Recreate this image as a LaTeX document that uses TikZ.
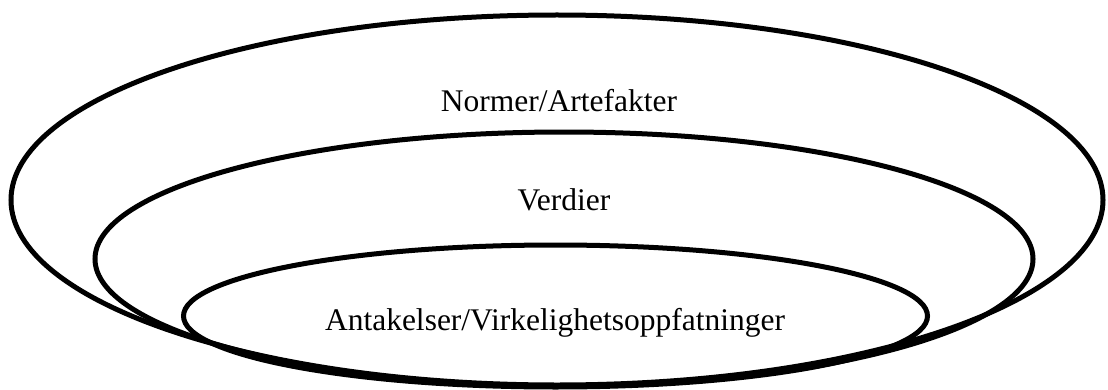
\documentclass[tikz,border=0pt]{standalone}
\usepackage{fontspec}
\setmainfont{Liberation Serif}
\tikzset{
  ring/.style={draw=black, line width=5pt},
  lbl/.style={anchor=base, inner sep=0pt, font=\fontsize{31.5}{38}\selectfont}
}
\begin{document}
\begin{tikzpicture}[x=1pt,y=1pt]
\useasboundingbox (0,0) rectangle (1108,389);
\draw[ring] (557,189) ellipse [x radius=546, y radius=185];
\draw[ring] (564,130) ellipse [x radius=469, y radius=127];
\draw[ring] (555.5,73) ellipse [x radius=372, y radius=71];
\node[lbl] (normer) at (559,277) {Normer/Artefakter};
\node[lbl] (verdier) at (564,179) {Verdier};
\node[lbl] (antak) at (555,59) {Antakelser/Virkelighetsoppfatninger};
\end{tikzpicture}
\end{document}
